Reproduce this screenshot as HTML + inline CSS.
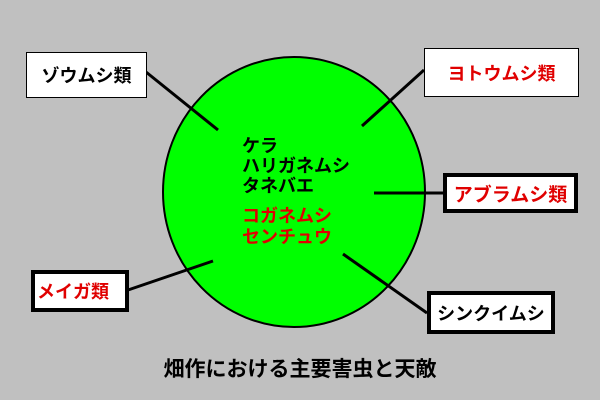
<!DOCTYPE html>
<html><head><meta charset="utf-8"><style>
body{margin:0;width:600px;height:400px;background:#c0c0c0;overflow:hidden;font-family:"Liberation Sans","Noto Sans CJK JP",sans-serif;font-weight:bold}
.b{position:absolute;background:#fff;box-sizing:border-box;display:flex;align-items:center;justify-content:center;font-size:18px;white-space:nowrap}
.t{border:1px solid #000}.k{border:4px solid #000}
.r{color:#e00000}
</style></head><body>
<svg width="600" height="400" style="position:absolute;left:0;top:0">
<ellipse cx="294" cy="192" rx="131" ry="135" fill="#00ff00" stroke="#000" stroke-width="2"/>
<g stroke="#000" stroke-width="3">
<line x1="146" y1="72" x2="218" y2="130"/>
<line x1="424" y1="70" x2="362" y2="126"/>
<line x1="374" y1="193" x2="443" y2="193"/>
<line x1="128" y1="290" x2="213" y2="261"/>
<line x1="343" y1="254" x2="427" y2="313"/>
</g>
</svg>
<div class="b t" style="left:26px;top:52px;width:121px;height:46px">ゾウムシ類</div>
<div class="b t r" style="left:424px;top:48px;width:155px;height:49px">ヨトウムシ類</div>
<div class="b k r" style="left:443px;top:173px;width:135px;height:40px;font-size:19px">アブラムシ類</div>
<div class="b k r" style="left:31px;top:270px;width:98px;height:42px;justify-content:flex-start;padding-left:2px">メイガ類</div>
<div class="b k" style="left:427px;top:291px;width:128px;height:43px">シンクイムシ</div>
<div style="position:absolute;left:242px;top:136px;font-size:18px;line-height:20px">ケラ<br>ハリガネムシ<br>タネバエ</div>
<div class="r" style="position:absolute;left:242px;top:206px;font-size:18px;line-height:21px">コガネムシ<br>センチュウ</div>
<div style="position:absolute;left:0;width:600px;top:353px;text-align:center;font-size:21px">畑作における主要害虫と天敵</div>
</body></html>
